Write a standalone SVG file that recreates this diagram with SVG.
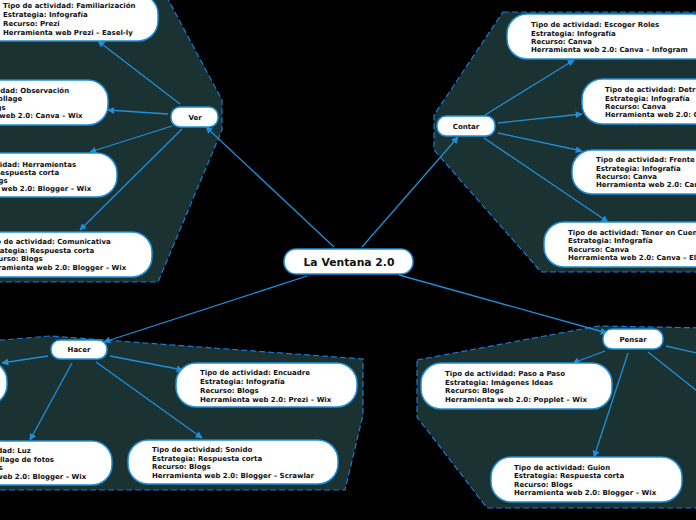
<svg xmlns="http://www.w3.org/2000/svg" width="696" height="520" viewBox="0 0 696 520">
<defs>
<style>
.reg{fill:#1b3233;stroke:#1a78d6;stroke-width:1.2;stroke-dasharray:6,3}
.nd{fill:#fff;stroke:#1e8fd8;stroke-width:1.5}
.t{font-family:"DejaVu Sans",Verdana,sans-serif;font-weight:bold;font-size:7px;fill:#111}
.lb{font-family:"DejaVu Sans",Verdana,sans-serif;font-weight:bold;font-size:7px;fill:#111;text-anchor:middle}
.ct{font-family:"DejaVu Sans",Verdana,sans-serif;font-weight:bold;font-size:10.8px;fill:#111;text-anchor:middle}
.c line{stroke:#1e8fd8;stroke-width:1.3;marker-end:url(#ah)}
</style>
<marker id="ah" viewBox="0 0 10 10" refX="9" refY="5" markerWidth="7" markerHeight="7" markerUnits="userSpaceOnUse" orient="auto">
<path d="M0,0 L10,5 L0,10 z" fill="#1e8fd8"/>
</marker>
</defs>
<rect width="696" height="520" fill="#000"/>
<g id="regions">
<polygon class="reg" points="-10,-10 163,-10 222,100 222,130 158,282 -10,282"/>
<polygon class="reg" points="503,12 710,12 710,272 541,272 434,150 434,115"/>
<polygon class="reg" points="-10,341 50,336 363,359 363,415 345,490 -10,490"/>
<polygon class="reg" points="417,360 598,326 710,328 710,508 487,508 417,417"/>
</g>
<g class="c" id="connectors">
<line x1="334" y1="247" x2="206" y2="127"/>
<line x1="362" y1="247" x2="458" y2="137"/>
<line x1="307" y1="276" x2="104" y2="342"/>
<line x1="399" y1="275" x2="607" y2="333"/>
<line x1="180" y1="104" x2="98" y2="41"/>
<line x1="168" y1="114" x2="108" y2="110"/>
<line x1="172" y1="126" x2="90" y2="152"/>
<line x1="182" y1="129" x2="80" y2="230"/>
<line x1="485" y1="115" x2="574" y2="60"/>
<line x1="498" y1="123" x2="582" y2="114"/>
<line x1="498" y1="133" x2="582" y2="151"/>
<line x1="484" y1="138" x2="608" y2="222"/>
<line x1="48" y1="356" x2="2" y2="363"/>
<line x1="72" y1="363" x2="30" y2="440"/>
<line x1="110" y1="356" x2="183" y2="370"/>
<line x1="96" y1="362" x2="202" y2="438"/>
<line x1="605" y1="351" x2="573" y2="363"/>
<line x1="628" y1="353" x2="594" y2="457"/>
<line x1="666" y1="346" x2="740" y2="363"/>
<line x1="648" y1="352" x2="740" y2="425"/>
</g>
<g id="n-centro">
<rect class="nd" x="284" y="249" width="129" height="25" rx="12"/>
<text class="ct" x="349" y="265.5">La Ventana 2.0</text>
</g>
<g id="n-ver">
<rect class="nd" x="171" y="107" width="47" height="20" rx="9"/>
<text class="lb" x="195" y="119.5">Ver</text>
</g>
<g id="n-contar">
<rect class="nd" x="437" y="116" width="58" height="20" rx="9"/>
<text class="lb" x="466" y="128.5">Contar</text>
</g>
<g id="n-hacer">
<rect class="nd" x="51" y="340" width="56" height="19" rx="9"/>
<text class="lb" x="79" y="352">Hacer</text>
</g>
<g id="n-pensar">
<rect class="nd" x="603" y="329" width="60" height="20" rx="9"/>
<text class="lb" x="633" y="341.5">Pensar</text>
</g>
<g id="n-familiarizacion">
<rect class="nd" x="-22" y="-6" width="180" height="47" rx="20"/>
<text class="t"><tspan x="3" y="8">Tipo de actividad: Familiarización</tspan><tspan x="3" y="17">Estrategia: Infografía</tspan><tspan x="3" y="25.5">Recurso: Prezi</tspan><tspan x="3" y="34.5">Herramienta web Prezi – Easel-ly</tspan></text>
</g>
<g id="n-observacion">
<rect class="nd" x="-80" y="80" width="188" height="45" rx="20"/>
<text class="t"><tspan x="-53" y="92.5">Tipo de actividad: Observación</tspan><tspan x="-53" y="101">Estrategia: Collage</tspan><tspan x="-53" y="109.5">Recurso: Blogs</tspan><tspan x="-53" y="118">Herramienta web 2.0: Canva – Wix</tspan></text>
</g>
<g id="n-herramientas">
<rect class="nd" x="-75" y="153" width="192" height="44" rx="20"/>
<text class="t"><tspan x="-51" y="166.5">Tipo de actividad: Herramientas</tspan><tspan x="-51" y="174.5">Estrategia: Respuesta corta</tspan><tspan x="-51" y="182.5">Recurso: Blogs</tspan><tspan x="-51" y="190.5">Herramienta web 2.0: Blogger – Wix</tspan></text>
</g>
<g id="n-comunicativa">
<rect class="nd" x="-40" y="232" width="192" height="45" rx="20"/>
<text class="t"><tspan x="-16" y="243.5">Tipo de actividad: Comunicativa</tspan><tspan x="-16" y="252.5">Estrategia: Respuesta corta</tspan><tspan x="-16" y="260.5">Recurso: Blogs</tspan><tspan x="-16" y="269.5">Herramienta web 2.0: Blogger – Wix</tspan></text>
</g>
<g id="n-roles">
<rect class="nd" x="507" y="14" width="206" height="45" rx="20"/>
<text class="t"><tspan x="531" y="26.5">Tipo de actividad: Escoger Roles</tspan><tspan x="531" y="35.5">Estrategia: Infografía</tspan><tspan x="531" y="43.5">Recurso: Canva</tspan><tspan x="531" y="51.5">Herramienta web 2.0: Canva – Infogram</tspan></text>
</g>
<g id="n-detras">
<rect class="nd" x="582" y="79" width="200" height="45" rx="20"/>
<text class="t"><tspan x="605" y="91.5">Tipo de actividad: Detrás de Cámaras</tspan><tspan x="605" y="100.5">Estrategia: Infografía</tspan><tspan x="605" y="108.5">Recurso: Canva</tspan><tspan x="605" y="116.5">Herramienta web 2.0: Canva</tspan></text>
</g>
<g id="n-frente">
<rect class="nd" x="572" y="150" width="200" height="44" rx="20"/>
<text class="t"><tspan x="596" y="161.5">Tipo de actividad: Frente a Cámara</tspan><tspan x="596" y="170.5">Estrategia: Infografía</tspan><tspan x="596" y="178.5">Recurso: Canva</tspan><tspan x="596" y="186.5">Herramienta web 2.0: Canva</tspan></text>
</g>
<g id="n-tener">
<rect class="nd" x="544" y="222" width="210" height="45" rx="20"/>
<text class="t"><tspan x="568" y="234.5">Tipo de actividad: Tener en Cuenta</tspan><tspan x="568" y="242.5">Estrategia: Infografía</tspan><tspan x="568" y="251.5">Recurso: Canva</tspan><tspan x="568" y="259.5">Herramienta web 2.0: Canva – El</tspan></text>
</g>
<g id="n-hacer-izq">
<rect class="nd" x="-150" y="361" width="157" height="44" rx="20"/>
</g>
<g id="n-luz">
<rect class="nd" x="-80" y="441" width="192" height="44" rx="20"/>
<text class="t"><tspan x="-56" y="452.5">Tipo de actividad: Luz</tspan><tspan x="-56" y="461.5">Estrategia: Collage de fotos</tspan><tspan x="-56" y="469.5">Recurso: Blogs</tspan><tspan x="-56" y="478.5">Herramienta web 2.0: Blogger – Wix</tspan></text>
</g>
<g id="n-encuadre">
<rect class="nd" x="176" y="363" width="181" height="44" rx="20"/>
<text class="t"><tspan x="200" y="374.5">Tipo de actividad: Encuadre</tspan><tspan x="200" y="383.5">Estrategia: Infografía</tspan><tspan x="200" y="392.5">Recurso: Blogs</tspan><tspan x="200" y="401.5">Herramienta web 2.0: Prezi – Wix</tspan></text>
</g>
<g id="n-sonido">
<rect class="nd" x="128" y="440" width="210" height="44" rx="20"/>
<text class="t"><tspan x="152" y="451.5">Tipo de actividad: Sonido</tspan><tspan x="152" y="460.5">Estrategia: Respuesta corta</tspan><tspan x="152" y="469">Recurso: Blogs</tspan><tspan x="152" y="477.5">Herramienta web 2.0: Blogger – Scrawlar</tspan></text>
</g>
<g id="n-paso">
<rect class="nd" x="421" y="363" width="191" height="46" rx="20"/>
<text class="t"><tspan x="445" y="375.5">Tipo de actividad: Paso a Paso</tspan><tspan x="445" y="384.5">Estrategia: Imágenes Ideas</tspan><tspan x="445" y="393">Recurso: Blogs</tspan><tspan x="445" y="401.5">Herramienta web 2.0: Popplet – Wix</tspan></text>
</g>
<g id="n-guion">
<rect class="nd" x="491" y="457" width="191" height="45" rx="20"/>
<text class="t"><tspan x="514" y="469.5">Tipo de actividad: Guion</tspan><tspan x="514" y="477.5">Estrategia: Respuesta corta</tspan><tspan x="514" y="486.5">Recurso: Blogs</tspan><tspan x="514" y="495">Herramienta web 2.0: Blogger – Wix</tspan></text>
</g>
</svg>
